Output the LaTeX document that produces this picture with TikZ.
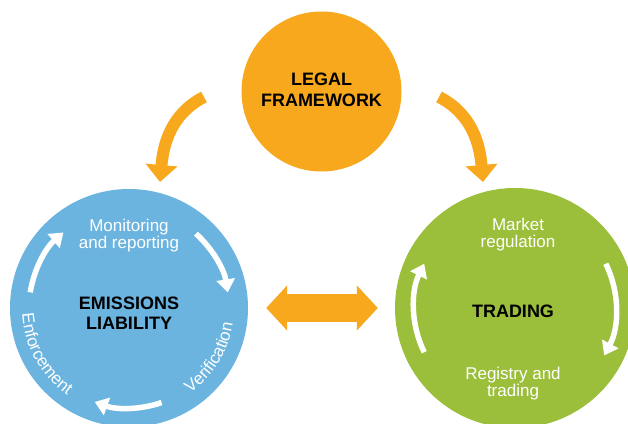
\documentclass[tikz,border=0pt]{standalone}
\usepackage{fontspec}
\setmainfont{Liberation Sans}
\usetikzlibrary{arrows.meta,decorations.text}

\definecolor{legalorange}{RGB}{247,168,29}
\definecolor{emisblue}{RGB}{108,180,224}
\definecolor{tradegreen}{RGB}{155,191,59}

\tikzset{
    bigcircle/.style={circle, inner sep=0pt, minimum size=#1},
    headline/.style={font=\bfseries\fontsize{18}{20.5}\selectfont, align=center, text=black},
    subline/.style={font=\fontsize{17}{17}\selectfont, align=center, text=white},
    cyclearrow/.style={white, line width=5.5pt, -{Triangle[width=18pt,length=13pt]}},
    flowarrow/.style={legalorange, line width=12pt, -{Triangle[width=31pt,length=17pt]}},
}

\begin{document}
\begin{tikzpicture}[x=1pt,y=1pt]
        \useasboundingbox (0,0) rectangle (628,423);
        \clip (0,0) rectangle (628,423);

        % the three circles
        \node[bigcircle=160pt, fill=legalorange] (legal) at (321.5,331.5) {};
        \node[bigcircle=238pt, fill=emisblue] (emis) at (129,115) {};
        \node[bigcircle=240pt, fill=tradegreen] (trade) at (515,115) {};

        % legal framework feeds both sides
        \coordinate (legal-l) at (204,326);
        \coordinate (emis-in) at (160,241);
        \coordinate (legal-r) at (439,326);
        \coordinate (trade-in) at (483,241);
        \draw[flowarrow] (legal-l) to[out=207, in=85] (emis-in);
        \draw[flowarrow] (legal-r) to[out=-27, in=95] (trade-in);

        \draw[legalorange, line width=28pt, {Triangle[width=44pt,length=21pt]}-{Triangle[width=44pt,length=21pt]},
            shorten <=18pt, shorten >=17pt] (emis) -- (trade);

        % cycles
        \foreach \a/\b in {171/131, 48/9, -71/-110}
            \draw[cyclearrow] ([shift={(\a:100)}]emis.center) arc[start angle=\a, end angle=\b, radius=100];
        \foreach \a/\b in {206/154, 26/-28}
            \draw[cyclearrow] ([shift={(\a:101)}]trade.center) arc[start angle=\a, end angle=\b, radius=101];

        % labels
        \node[headline] (legal-text) at ([yshift=1.5pt]legal.center) {LEGAL\\FRAMEWORK};
        \node[headline] (emis-text) at ([yshift=-5pt]emis.center) {EMISSIONS\\LIABILITY};
        \node[headline] (trade-text) at ([xshift=-2pt,yshift=-3pt]trade.center) {TRADING};

        \node[subline] (monitor) at ([yshift=72.5pt]emis.center) {Monitoring\\and reporting};
        \node[subline] (market) at ([xshift=3pt,yshift=73.5pt]trade.center) {Market\\regulation};
        \node[subline] (registry) at ([xshift=-2pt,yshift=-75.5pt]trade.center) {Registry and\\trading};

        \path[decorate, decoration={text along path, text align=center, text color=white,
            text={|\fontsize{17}{17}\selectfont|Enforcement}}]
            ([shift={(179:107)}]emis.center) arc[start angle=179, end angle=239, radius=107];
        \path[decorate, decoration={text along path, text align=center, text color=white,
            text={|\fontsize{17}{17}\selectfont|Verification}}]
            ([shift={(-60:105)}]emis.center) arc[start angle=-60, end angle=-3, radius=105];
\end{tikzpicture}
\end{document}
